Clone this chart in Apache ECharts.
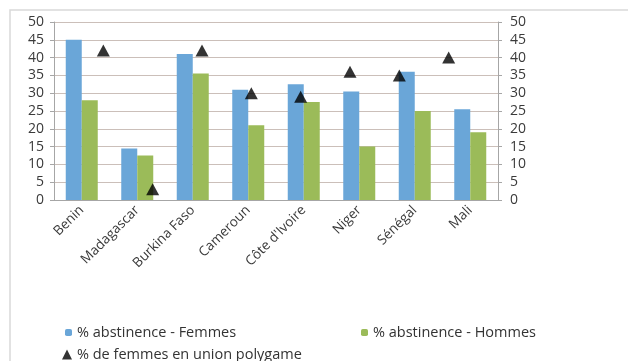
<!DOCTYPE html>
<html>
<head>
<meta charset="utf-8">
<script src="https://cdn.jsdelivr.net/npm/echarts@6/dist/echarts.min.js"></script>
<style>
  html, body { margin: 0; padding: 0; background: #fff; }
  #chart { width: 628px; height: 361px; }
</style>
</head>
<body>
<div id="chart"></div>
<script>
const countries = ['Benin', 'Madagascar', 'Burkina Faso', 'Cameroun', "Côte d'Ivoire", 'Niger', 'Sénégal', 'Mali'];
const abstFemmes = [45, 14.5, 41, 31, 32.5, 30.5, 36, 25.5];
const abstHommes = [28, 12.5, 35.5, 21, 27.5, 15, 25, 19];
const polygame = [42, 3, 42, 30, 29, 36, 35, 40];
const yTicks = { min: 0, max: 50, interval: 5 };

const chart = echarts.init(document.getElementById('chart'), null, { renderer: 'canvas' });

const labelColor = '#3a3a3a';
const font = 'Open Sans, sans-serif';

const option = {
  backgroundColor: '#fff',
  animation: false,
  textStyle: { fontFamily: font },
  graphic: [{
    type: 'rect',
    shape: { x: 10, y: 10, width: 640, height: 400 },
    style: { fill: 'none', stroke: '#d9d9d9', lineWidth: 1.5 },
    silent: true
  }],
  grid: { left: 54, right: 130, top: 22, bottom: 161 },
  legend: [
    {
      data: ['% abstinence - Femmes'], left: 60, top: 320,
      itemWidth: 7, itemHeight: 7, itemGap: 4,
      textStyle: { fontSize: 14.5, color: '#333', fontFamily: font }
    },
    {
      data: ['% abstinence - Hommes'], left: 356, top: 320,
      itemWidth: 7, itemHeight: 7,
      textStyle: { fontSize: 14.5, color: '#333', fontFamily: font }
    },
    {
      data: ['% de femmes en union polygame'], left: 57, top: 342,
      itemWidth: 10, itemHeight: 10,
      textStyle: { fontSize: 14.5, color: '#333', fontFamily: font }
    }
  ],
  xAxis: [
    {
      type: 'category',
      data: countries,
      axisLine: { lineStyle: { color: '#a6a6a6' } },
      axisTick: { length: 4, lineStyle: { color: '#a6a6a6' } },
      axisLabel: { rotate: 45, fontSize: 13.5, color: labelColor, margin: 8, interval: 0 }
    },
    {
      type: 'value', min: 0, max: 9, show: false
    }
  ],
  yAxis: [
    {
      type: 'value', min: yTicks.min, max: yTicks.max, interval: yTicks.interval,
      axisLine: { show: true, lineStyle: { color: '#a6a6a6' } },
      axisTick: { show: true, length: 4, lineStyle: { color: '#a6a6a6' } },
      axisLabel: { fontSize: 14, color: labelColor, margin: 10 },
      splitLine: { lineStyle: { color: '#cbbfb9', width: 1 } }
    },
    {
      type: 'value', min: yTicks.min, max: yTicks.max, interval: yTicks.interval,
      position: 'right',
      axisLine: { show: true, lineStyle: { color: '#a6a6a6' } },
      axisTick: { show: true, length: 4, lineStyle: { color: '#a6a6a6' } },
      axisLabel: { fontSize: 14, color: labelColor, margin: 12 },
      splitLine: { show: false }
    }
  ],
  series: [
    {
      name: '% abstinence - Femmes', type: 'bar', data: abstFemmes,
      barWidth: 16, barGap: '0%',
      itemStyle: { color: '#6aa6d8' }
    },
    {
      name: '% abstinence - Hommes', type: 'bar', data: abstHommes,
      barWidth: 16,
      itemStyle: { color: '#9bbb59' }
    },
    {
      name: '% de femmes en union polygame', type: 'scatter',
      xAxisIndex: 1, yAxisIndex: 1,
      data: polygame.map((v, i) => [i + 1, v]),
      symbol: 'triangle', symbolSize: [13, 12],
      itemStyle: { color: '#000' },
      z: 5
    }
  ]
};
chart.setOption(option);
</script>
</body>
</html>
